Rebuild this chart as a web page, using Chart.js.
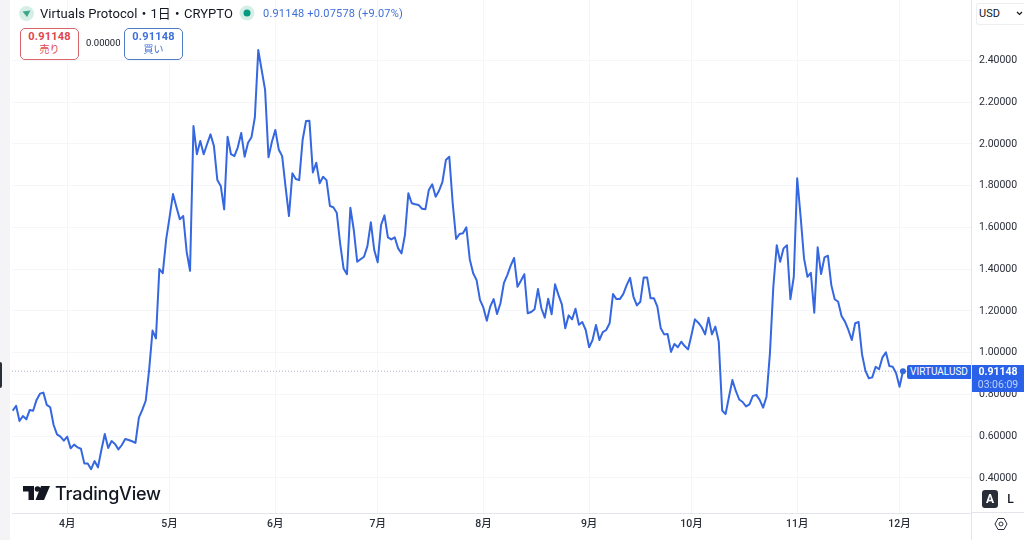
<!DOCTYPE html>
<html lang="ja">
<head>
<meta charset="utf-8">
<title>Virtuals Protocol</title>
<script src="https://cdn.jsdelivr.net/npm/chart.js@4"></script>
<style>
    html, body { margin: 0; padding: 0; background: #fff; }
    body { width: 1024px; height: 540px; overflow: hidden; position: relative; font-family: Roboto, "Noto Sans CJK JP", sans-serif; color: #131722; }
    canvas { position: absolute; left: 0; top: 0; }
    .abs { position: absolute; white-space: nowrap; }
    .caja { position: absolute; top: 28px; width: 57px; height: 29px; border: 1px solid; border-radius: 5px; text-align: center; font-size: 11px; line-height: 13px; padding-top: 1px; background: #fff; }
    .caja b { display: block; font-size: 11px; font-weight: 700; letter-spacing: .2px; }
    .caja span { font-size: 10px; }
</style>
</head>
<body>
<canvas id="grafico" width="1024" height="540"></canvas>

<div class="abs" style="left:0;top:0;width:10px;height:540px;background:#f4f4f6"></div>
<div class="abs" style="left:0;top:362px;width:2px;height:26px;background:#2a2e39;border-radius:0 2px 2px 0"></div>
<div class="abs" style="left:971px;top:0;width:1px;height:540px;background:#e3e5ea"></div>
<div class="abs" style="left:972px;top:512px;width:52px;height:1px;background:#e3e5ea"></div>

<svg class="abs" style="left:19px;top:6px" width="15" height="15" viewBox="0 0 15 15">
    <circle cx="7.5" cy="7.5" r="7.5" fill="#d5efe6"/>
    <path d="M3.5 5.5 L11.5 4.5 L8 11 Z" fill="#3fa58c"/>
</svg>
<div class="abs" style="left:40px;top:5px;font-size:13px;line-height:18px;letter-spacing:.05px">Virtuals Protocol・1日・CRYPTO</div>
<svg class="abs" style="left:239px;top:5px" width="16" height="16" viewBox="0 0 16 16">
    <circle cx="8" cy="8" r="7.5" fill="#d5efe6"/>
    <circle cx="8" cy="8" r="3.5" fill="#089981"/>
</svg>
<div class="abs" style="left:263px;top:6px;font-size:11px;line-height:15px;color:#3f6fd8;letter-spacing:.2px">0.91148 +0.07578 (+9.07%)</div>

<div class="caja" style="left:20px;border-color:#d9646a;color:#e0454d"><b>0.91148</b><span>売り</span></div>
<div class="abs" style="left:86px;top:37px;font-size:9.5px;line-height:12px">0.00000</div>
<div class="caja" style="left:124px;border-color:#4f7cc4;color:#3f6fd8"><b>0.91148</b><span>買い</span></div>

<svg class="abs" style="left:23px;top:486px" width="27" height="14" viewBox="0 0 27 14">
    <path d="M0 0 H11 V14 H5.5 V5.5 H0 Z M12.5 14 L18 0 H27 L21 14 Z" fill="#131722"/>
    <circle cx="14.5" cy="3" r="2.8" fill="#131722"/>
</svg>
<div class="abs" style="left:55px;top:481px;font-family:Inter,Roboto,sans-serif;font-size:18px;line-height:25px;font-weight:500;color:#131722;letter-spacing:-.2px">TradingView</div>

<div class="abs" style="left:976px;top:3px;width:48px;height:22px;border:1px solid #eceef2;border-right:0;border-radius:3px 0 0 3px;box-sizing:border-box;background:#fff;font-size:11px;line-height:20px;padding-left:2px">USD</div>
<svg class="abs" style="left:1016px;top:11px" width="7" height="5" viewBox="0 0 7 5"><path d="M1 1 L3.5 3.5 L6 1" fill="none" stroke="#131722" stroke-width="1.2"/></svg>

<div class="abs" style="left:907px;top:365px;width:64px;height:14px;background:#2962e8;border-radius:2px 0 0 2px;color:#fff;font-size:10px;line-height:14px;text-align:center">VIRTUALUSD</div>
<div class="abs" style="left:972px;top:365px;width:52px;height:27px;background:#2962e8;color:#fff;font-size:10.5px;line-height:13px;text-align:center">
    <div style="font-weight:700">0.91148</div>
    <div style="color:#bcd0fa">03:06:09</div>
</div>

<div class="abs" style="left:982px;top:490px;width:16px;height:18px;background:#2a2e39;border-radius:3px;color:#fff;font-size:12px;font-weight:700;line-height:18px;text-align:center">A</div>
<div class="abs" style="left:1003px;top:490px;width:15px;height:18px;color:#131722;font-size:12px;font-weight:500;line-height:18px;text-align:center">L</div>

<svg class="abs" style="left:994px;top:517px" width="14" height="14" viewBox="0 0 14 14">
    <path d="M4 1.5 H10 L13 7 L10 12.5 H4 L1 7 Z" fill="none" stroke="#2a2e39" stroke-width="1"/>
    <circle cx="7" cy="7" r="2" fill="none" stroke="#2a2e39" stroke-width="1"/>
</svg>

<script>
// Cierre diario, primer punto = 16 de marzo
const precios = [
    0.722, 0.746, 0.673, 0.697, 0.681, 0.726, 0.722, 0.774, 0.804, 0.809,
    0.750, 0.739, 0.654, 0.609, 0.598, 0.579, 0.598, 0.542, 0.560, 0.547,
    0.540, 0.470, 0.469, 0.442, 0.481, 0.451, 0.534, 0.611, 0.544, 0.577,
    0.563, 0.537, 0.558, 0.587, 0.582, 0.576, 0.568, 0.689, 0.726, 0.770,
    0.917, 1.106, 1.069, 1.401, 1.381, 1.543, 1.650, 1.760, 1.698, 1.639,
    1.655, 1.484, 1.393, 2.086, 1.951, 2.014, 1.951, 2.000, 2.046, 1.990,
    1.827, 1.799, 1.687, 2.035, 1.951, 1.942, 1.984, 2.053, 1.939, 2.006,
    2.032, 2.128, 2.450, 2.354, 2.259, 1.936, 2.011, 2.067, 1.974, 1.942,
    1.795, 1.655, 1.860, 1.832, 1.827, 2.019, 2.110, 2.111, 1.864, 1.910,
    1.812, 1.843, 1.827, 1.703, 1.697, 1.671, 1.524, 1.404, 1.376, 1.695,
    1.588, 1.436, 1.448, 1.460, 1.511, 1.625, 1.492, 1.433, 1.612, 1.658,
    1.553, 1.543, 1.553, 1.500, 1.476, 1.564, 1.764, 1.716, 1.711, 1.708,
    1.690, 1.687, 1.780, 1.807, 1.747, 1.776, 1.819, 1.923, 1.939, 1.716,
    1.545, 1.569, 1.572, 1.601, 1.448, 1.381, 1.348, 1.253, 1.216, 1.153,
    1.221, 1.257, 1.186, 1.237, 1.333, 1.372, 1.417, 1.454, 1.316, 1.345,
    1.376, 1.189, 1.195, 1.208, 1.305, 1.213, 1.168, 1.259, 1.184, 1.328,
    1.277, 1.232, 1.117, 1.179, 1.160, 1.211, 1.134, 1.147, 1.109, 1.026,
    1.061, 1.133, 1.061, 1.099, 1.109, 1.141, 1.281, 1.257, 1.257, 1.281,
    1.324, 1.359, 1.268, 1.227, 1.244, 1.361, 1.361, 1.261, 1.261, 1.221,
    1.117, 1.088, 1.090, 1.004, 1.042, 1.026, 1.053, 1.032, 1.016, 1.085,
    1.160, 1.144, 1.122, 1.088, 1.168, 1.088, 1.125, 1.053, 0.723, 0.706,
    0.789, 0.869, 0.817, 0.776, 0.764, 0.743, 0.753, 0.793, 0.798, 0.774,
    0.737, 0.789, 0.997, 1.316, 1.515, 1.436, 1.500, 1.515, 1.256, 1.364,
    1.836, 1.652, 1.452, 1.364, 1.383, 1.192, 1.505, 1.377, 1.457, 1.465,
    1.324, 1.256, 1.244, 1.176, 1.149, 1.109, 1.061, 1.141, 1.147, 0.993,
    0.913, 0.878, 0.882, 0.933, 0.921, 0.978, 1.002, 0.936, 0.933, 0.902,
    0.837, 0.91148
];
const precioActual = 0.91148;

const mesesDia = [16, 46, 77, 107, 138, 169, 199, 230, 260];
const mesesEtiqueta = ['4月', '5月', '6月', '7月', '8月', '9月', '10月', '11月', '12月'];
const ticksPrecio = [0.4, 0.6, 0.8, 1.0, 1.2, 1.4, 1.6, 1.8, 2.0, 2.2, 2.4];

const xMin = -0.2;
const xMax = 280.95;
const yMin = 0.2323;
const yMax = 2.6898;

const azul = '#3567e0';
const colorGrid = '#f5f6f9';

new Chart(document.getElementById('grafico').getContext('2d'), {
    type: 'line',
    data: {
        datasets: [
            {
                data: precios.map((p, i) => ({ x: i, y: p })),
                borderColor: azul,
                borderWidth: 2,
                borderJoinStyle: 'round',
                tension: 0,
                order: 1,
                pointBackgroundColor: azul,
                pointBorderWidth: 0,
                pointRadius: ctx => ctx.dataIndex === precios.length - 1 ? 3 : 0
            },
            {
                data: [{ x: xMin, y: precioActual }, { x: xMax, y: precioActual }],
                borderColor: '#a8b3c9',
                borderWidth: 1,
                borderDash: [1, 2],
                pointRadius: 0,
                order: 2
            }
        ]
    },
    options: {
        responsive: false,
        animation: false,
        devicePixelRatio: 1,
        layout: { autoPadding: false, padding: { left: 12, right: 0, top: 0, bottom: 0 } },
        plugins: { legend: { display: false }, tooltip: { enabled: false } },
        scales: {
            x: {
                type: 'linear',
                min: xMin,
                max: xMax,
                afterBuildTicks: scale => { scale.ticks = mesesDia.map(v => ({ value: v })); },
                afterFit: scale => {
                    scale.height = 27;
                    scale.paddingLeft = 0;
                    scale.paddingRight = 0;
                },
                grid: { color: colorGrid, drawTicks: false },
                border: { color: '#e3e5ea' },
                ticks: {
                    autoSkip: false,
                    maxRotation: 0,
                    padding: 5,
                    color: '#2a2e39',
                    font: { family: 'Roboto, "Noto Sans CJK JP"', size: 10.5, weight: '500' },
                    callback: value => mesesEtiqueta[mesesDia.indexOf(value)]
                }
            },
            y: {
                position: 'right',
                min: yMin,
                max: yMax,
                afterBuildTicks: scale => { scale.ticks = ticksPrecio.map(v => ({ value: v })); },
                afterFit: scale => {
                    scale.width = 53;
                    scale.paddingTop = 0;
                    scale.paddingBottom = 0;
                },
                grid: { color: colorGrid, drawTicks: false },
                border: { display: false },
                ticks: {
                    padding: 8,
                    color: '#2a2e39',
                    font: { family: 'Roboto', size: 10.5 },
                    callback: value => value.toFixed(5)
                }
            }
        }
    }
});
</script>
</body>
</html>
